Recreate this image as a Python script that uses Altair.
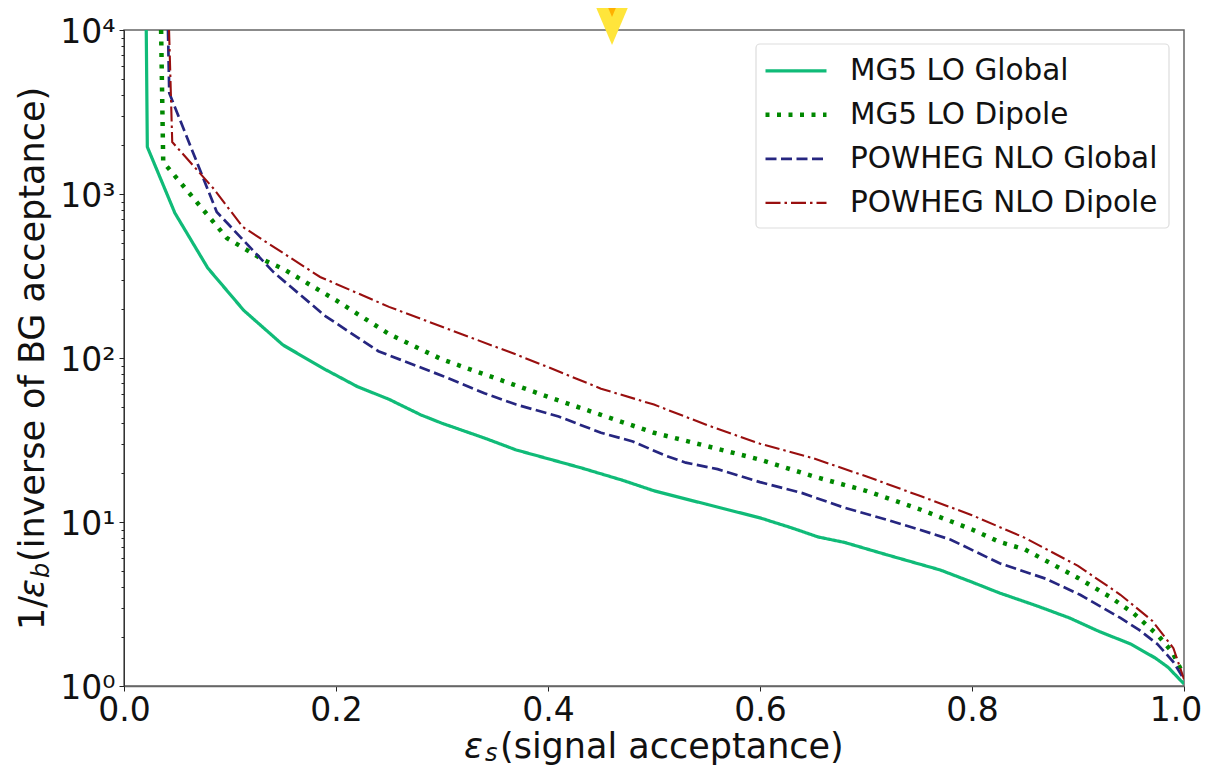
import altair as alt
import pandas as pd

FONT = "DejaVu Sans"

names = ["MG5 LO Global", "MG5 LO Dipole", "POWHEG NLO Global", "POWHEG NLO Dipole"]
colors = ["#10BB78", "#008800", "#262680", "#990F0F"]
dashes = [[1, 0], [4, 7.5], [11, 4.5], [15, 4, 2.5, 4]]
widths = [3.2, 4.5, 2.7, 2.1]

x_global = [0.021, 0.022, 0.048, 0.079, 0.113, 0.15, 0.19, 0.22, 0.25, 0.28, 0.30, 0.34, 0.37, 0.43, 0.47, 0.50,
            0.55, 0.60, 0.63, 0.655, 0.68, 0.72, 0.77, 0.80, 0.826, 0.86, 0.892, 0.92, 0.95, 0.973, 0.985, 1.0]
y_global = [10000, 1936, 766, 354, 195, 120, 85, 67, 56, 45, 40, 32.5, 27.5, 21.5, 18, 15.5,
            12.8, 10.6, 9.2, 8.1, 7.5, 6.3, 5.1, 4.3, 3.69, 3.1, 2.6, 2.15, 1.8, 1.48, 1.3, 1.03]

x_dipole = [0.035, 0.037, 0.097, 0.11, 0.131, 0.15, 0.20, 0.25, 0.30, 0.37, 0.40, 0.45, 0.50, 0.55, 0.60, 0.65,
            0.70, 0.75, 0.80, 0.826, 0.85, 0.90, 0.93, 0.952, 0.975, 0.989, 1.0]
y_dipole = [10000, 1567, 539, 480, 398, 350, 225, 140, 98, 68, 58, 45, 35, 29, 24, 19,
            15.5, 12, 9, 7.56, 6.8, 4.56, 3.5, 2.79, 2.05, 1.61, 1.15]

x_nlo_global = [0.0415, 0.0427, 0.0875, 0.141, 0.19, 0.24, 0.30, 0.34, 0.37, 0.41, 0.45, 0.48, 0.51, 0.53, 0.56,
                0.60, 0.64, 0.68, 0.72, 0.75, 0.78, 0.826, 0.87, 0.902, 0.94, 0.958, 0.975, 0.99, 1.0]
y_nlo_global = [10000, 4130, 777, 334, 180, 110, 78, 61, 52, 44, 35, 31, 25.5, 23, 21,
                17.5, 15, 12.2, 10.3, 9, 7.8, 5.6, 4.5, 3.6, 2.6, 2.19, 1.8, 1.4, 1.1]

x_nlo_dipole = [0.0425, 0.0455, 0.084, 0.112, 0.185, 0.25, 0.30, 0.37, 0.40, 0.45, 0.50, 0.55, 0.60, 0.65,
                0.70, 0.75, 0.80, 0.85, 0.90, 0.94, 0.97, 0.99, 1.0]
y_nlo_dipole = [10000, 2075, 1088, 630, 312, 205, 155, 105, 88, 65, 52, 39, 30, 24.5,
                19, 14.5, 11, 8, 5.4, 3.6, 2.5, 1.7, 1.1]

x_ticks = [0.0, 0.2, 0.4, 0.6, 0.8, 1.0]
y_ticks = [m * 10 ** k for k in range(4) for m in range(1, 10)] + [10000]
marker_x = [0.4604]
marker_y = [15240]

frames = []
for name, xs, ys in zip(names, [x_global, x_dipole, x_nlo_global, x_nlo_dipole],
                        [y_global, y_dipole, y_nlo_global, y_nlo_dipole]):
    frames.append(pd.DataFrame({"x": xs, "y": ys, "series": name, "order": range(len(xs))}))
df = pd.concat(frames, ignore_index=True)

x_scale = alt.Scale(domain=[0, 1], nice=False, zero=False)
y_scale = alt.Scale(type="log", domain=[1, 10000], nice=False)

major = "indexof([1,10,100,1000,10000], datum.value) >= 0"
sup = "{'1':'10⁰','10':'10¹','100':'10²','1000':'10³','10000':'10⁴'}[datum.value] || ''"

lines = alt.Chart(df).mark_line(clip=True, strokeJoin="miter").encode(
    x=alt.X("x:Q", scale=x_scale, title=None,
            axis=alt.Axis(values=x_ticks, format=".1f", tickSize=5, labelPadding=3, grid=False, labelFlush=False,
                          labelOverlap=False,
                          labelOffset={"condition": {"test": "datum.value === 1", "value": -8.5}, "value": 0})),
    y=alt.Y("y:Q", scale=y_scale, title=None,
            axis=alt.Axis(values=y_ticks, labelExpr=sup, grid=False, labelPadding=4, labelOverlap=False,
                          labelFlush=False, labelOffset=2,
                          tickSize={"condition": {"test": major, "value": 5}, "value": 3})),
    order="order:Q",
    color=alt.Color("series:N", sort=names, scale=alt.Scale(domain=names, range=colors),
                    legend=alt.Legend(orient="none", legendX=639, legendY=19, title=None, symbolType="stroke",
                                      symbolSize=3721, clipHeight=43.7, rowPadding=0, labelFontSize=29.5,
                                      labelFont=FONT, labelColor="#111111", labelOffset=21, padding=0,
                                      labelLimit=400, zindex=1)),
    strokeDash=alt.StrokeDash("series:N", sort=names, scale=alt.Scale(domain=names, range=dashes)),
    strokeWidth=alt.StrokeWidth("series:N", sort=names, scale=alt.Scale(type="ordinal", domain=names, range=widths)),
)

legend_frame = alt.Chart(pd.DataFrame({"k": [0]})).mark_rect(
    fill="white", stroke="#dddddd", strokeWidth=1.2, cornerRadius=4
).encode(x=alt.value(756 - 124), x2=alt.value(1169 - 124), y=alt.value(44 - 30), y2=alt.value(228 - 30))

marker_df = pd.DataFrame({"x": marker_x, "y": marker_y})
tri = "M0,1 L0.85,-1 L-0.85,-1 Z"
star_outer = alt.Chart(marker_df).mark_point(shape=tri, filled=True, size=8100, color="#FFE53B", opacity=1).encode(
    x=alt.X("x:Q", scale=x_scale), y=alt.Y("y:Q", scale=y_scale))
star_inner = alt.Chart(marker_df).mark_point(shape=tri, filled=True, size=1156, color="#FFB000", opacity=1).encode(
    x=alt.X("x:Q", scale=x_scale), y=alt.Y("y:Q", scale=y_scale))


def label(text, px, py, size=35, italic=False, angle=0):
    return alt.Chart(pd.DataFrame({"t": [text]})).mark_text(
        font=FONT, fontSize=size, fontStyle="italic" if italic else "normal", align="left", baseline="alphabetic",
        angle=angle, color="#111111", clip=False
    ).encode(x=alt.value(px - 124), y=alt.value(py - 30), text="t:N")


x_title = [label("ε", 464, 758, italic=True), label("s", 485, 761, size=24, italic=True),
           label("(signal acceptance)", 500, 758)]
y_title = [label("1/", 43.5, 630, angle=270), label("ε", 43.5, 598, italic=True, angle=270),
           label("b", 48.5, 578, size=24, italic=True, angle=270),
           label("(inverse of BG acceptance)", 43.5, 562, angle=270)]

chart = alt.layer(legend_frame, lines, star_outer, star_inner, *x_title, *y_title).properties(
    width=1060, height=656,
    padding={"left": 116, "top": 22, "right": 18, "bottom": 81},
    autosize=alt.AutoSizeParams(type="none"),
).configure_view(stroke="#666666", strokeWidth=1.5).configure_axis(
    labelFont=FONT, labelFontSize=33, labelColor="#111111", tickColor="#222222", domainColor="#333333",
    tickWidth=1, domainWidth=1
).configure_axisX(domainColor="#666666", domainWidth=1.5)

chart.save("out.html", embed_options={"renderer": "svg", "actions": False})
